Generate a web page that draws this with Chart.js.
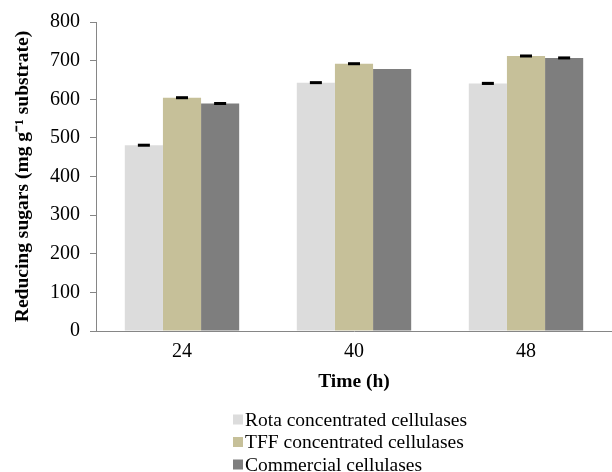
<!DOCTYPE html>
<html>
<head>
<meta charset="utf-8">
<script src="https://cdn.jsdelivr.net/npm/chart.js@4"></script>
<style>
  html, body { margin: 0; padding: 0; background: #fff; }
  #wrap { width: 612px; height: 472px; }
</style>
</head>
<body>
<div id="wrap"><canvas id="barGraph" width="612" height="472"></canvas></div>
<script>
// data
var times = ['24', '40', '48'];
var rota = [481, 643, 641];
var tff = [604, 692, 712];
var commercial = [589, 678, 707];
var rotaErr = [3, 3, 4];
var tffErr = [3, 3, 3];
var commercialErr = [3, 0, 3];
var yTicks = [0, 100, 200, 300, 400, 500, 600, 700, 800];

var serif = '"Liberation Serif", "Times New Roman", serif';

// small black caps for the error values
var errorBars = {
    id: 'errorBars',
    afterDatasetsDraw: function (chart) {
        var ctx = chart.ctx;
        var y = chart.scales.y;
        ctx.save();
        ctx.fillStyle = '#000';
        chart.data.datasets.forEach(function (ds, i) {
            var meta = chart.getDatasetMeta(i);
            meta.data.forEach(function (bar, j) {
                var e = ds.errors[j];
                if (!e) return;
                var top = y.getPixelForValue(ds.data[j] + e);
                var bot = y.getPixelForValue(ds.data[j] - e);
                var h = Math.max(bot - top, 3);
                ctx.fillRect(bar.x - 6, (top + bot) / 2 - h / 2, 12, h);
            });
        });
        ctx.restore();
    }
};

// legend stacked vertically under the plot
var stackedLegend = {
    id: 'stackedLegend',
    afterDraw: function (chart) {
        var ctx = chart.ctx;
        ctx.save();
        ctx.font = '19.5px ' + serif;
        ctx.textBaseline = 'middle';
        chart.data.datasets.forEach(function (ds, i) {
            var yy = 419.5 + i * 22.5;
            ctx.fillStyle = ds.backgroundColor;
            ctx.fillRect(233, yy - 5, 10, 10);
            ctx.fillStyle = '#000';
            ctx.fillText(ds.label, 245, yy + 1);
        });
        ctx.restore();
    }
};

var ctx = document.getElementById('barGraph').getContext('2d');

var myBarChart = new Chart(ctx, {
    type: 'bar',
    data: {
        labels: times,
        datasets: [{
            label: 'Rota concentrated cellulases',
            data: rota,
            errors: rotaErr,
            backgroundColor: '#dcdcdc'
        }, {
            label: 'TFF concentrated cellulases',
            data: tff,
            errors: tffErr,
            backgroundColor: '#c6c099'
        }, {
            label: 'Commercial cellulases',
            data: commercial,
            errors: commercialErr,
            backgroundColor: '#7e7e7e'
        }]
    },
    options: {
        responsive: false,
        animation: false,
        layout: { padding: { top: 22, right: 0, bottom: 78, left: 0 } },
        datasets: {
            bar: { categoryPercentage: 0.665, barPercentage: 1.0, borderWidth: 0 }
        },
        plugins: {
            legend: { display: false },
            tooltip: { enabled: false }
        },
        scales: {
            x: {
                afterFit: function (axis) { axis.height = 63; },
                grid: { display: false, drawTicks: false },
                border: { color: '#868686', width: 1 },
                ticks: { color: '#000', font: { family: serif, size: 20 }, padding: 9 },
                title: {
                    display: true,
                    text: 'Time (h)',
                    color: '#000',
                    font: { family: serif, size: 19.5, weight: 'bold' },
                    padding: { top: 0, bottom: 0 }
                }
            },
            y: {
                min: 0,
                max: 800,
                afterBuildTicks: function (axis) {
                    axis.ticks = yTicks.map(function (v) { return { value: v }; });
                },
                afterFit: function (axis) { axis.width = 96; },
                grid: { display: true, drawOnChartArea: false, drawTicks: true, tickLength: 6, color: '#868686' },
                border: { color: '#868686', width: 1 },
                ticks: { color: '#000', font: { family: serif, size: 20 }, padding: 10 },
                title: {
                    display: true,
                    text: 'Reducing sugars (mg g\u207B\u00B9 substrate)',
                    color: '#000',
                    font: { family: serif, size: 19.5, weight: 'bold' },
                    padding: { top: 11, bottom: 0 }
                }
            }
        }
    },
    plugins: [errorBars, stackedLegend]
});
</script>
</body>
</html>
